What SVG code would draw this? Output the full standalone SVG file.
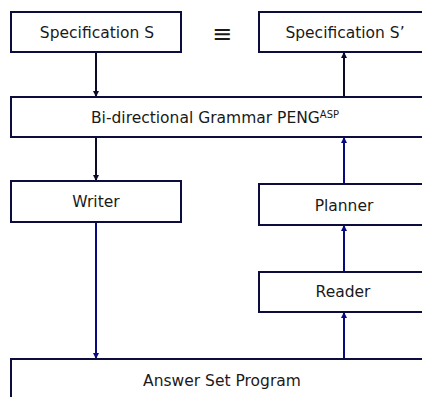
<svg xmlns="http://www.w3.org/2000/svg" width="422" height="397" viewBox="0 0 422 397">
<style>
.box{fill:#fff;stroke:#0d0d3d;stroke-width:2}
.t{font-family:"DejaVu Sans",Verdana,sans-serif;font-size:15.5px;fill:#1a1a1a;text-anchor:middle;dominant-baseline:central}
.c{fill:none;stroke-width:2}
.k{stroke:#0a0a2a}
.b{stroke:#0a0a80}
</style>
<defs>
<marker id="ak" viewBox="0 0 6 6" refX="6" refY="3" markerWidth="3" markerHeight="3" orient="auto"><path d="M0,0L6,3L0,6z" fill="#0a0a2a"/></marker>
<marker id="ab" viewBox="0 0 6 6" refX="6" refY="3" markerWidth="3" markerHeight="3" orient="auto"><path d="M0,0L6,3L0,6z" fill="#0a0a80"/></marker>
</defs>
<rect width="422" height="397" fill="#fff"/>
<g id="connectors">
<line class="c k" x1="96" y1="52" x2="96" y2="97" marker-end="url(#ak)"/>
<line class="c k" x1="96" y1="137" x2="96" y2="181" marker-end="url(#ak)"/>
<line class="c b" x1="96" y1="222" x2="96" y2="359" marker-end="url(#ab)"/>
<line class="c b" x1="344" y1="359" x2="344" y2="312" marker-end="url(#ab)"/>
<line class="c b" x1="344" y1="272" x2="344" y2="225" marker-end="url(#ab)"/>
<line class="c b" x1="344" y1="184" x2="344" y2="137" marker-end="url(#ab)"/>
<line class="c k" x1="344" y1="97" x2="344" y2="52" marker-end="url(#ak)"/>
</g>
<g id="specS"><rect class="box" x="11" y="12" width="170" height="40"/><text class="t" x="97" y="33">Specification S</text></g>
<g id="equiv"><text class="t" x="222" y="34" style="font-size:24px">≡</text></g>
<g id="specS2"><rect class="box" x="259" y="12" width="172" height="40"/><text class="t" x="345" y="33">Specification S’</text></g>
<g id="grammar"><rect class="box" x="11" y="97" width="415" height="40"/><text class="t" x="215" y="118">Bi-directional Grammar PENG<tspan style="font-size:10px" dy="-4">ASP</tspan></text></g>
<g id="writer"><rect class="box" x="11" y="181" width="170" height="41"/><text class="t" x="96" y="202">Writer</text></g>
<g id="planner"><rect class="box" x="259" y="184" width="172" height="41"/><text class="t" x="344" y="206">Planner</text></g>
<g id="reader"><rect class="box" x="259" y="272" width="172" height="40"/><text class="t" x="343" y="292">Reader</text></g>
<g id="asp"><rect class="box" x="11" y="359" width="422" height="50"/><text class="t" x="222" y="381">Answer Set Program</text></g>
</svg>
